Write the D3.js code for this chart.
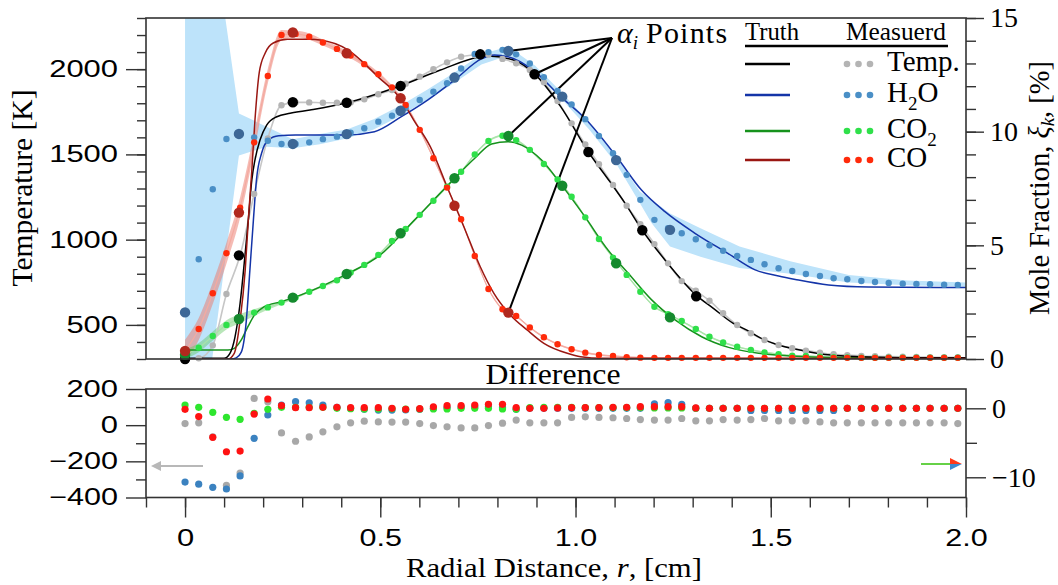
<!DOCTYPE html>
<html>
<head>
<meta charset="utf-8">
<script src="https://cdn.jsdelivr.net/npm/d3@7"></script>
<style>
  body { margin: 0; background: #fff; }
  svg { display: block; }
</style>
</head>
<body>
<svg id="chart" width="1058" height="585"></svg>
<script>
"use strict";

/* ---------------- data ---------------- */

// measurement grid, radial position [cm]
const rGrid = [0.000,0.035,0.071,0.106,0.141,0.177,0.212,0.247,0.283,0.318,0.353,0.389,0.424,0.459,0.495,0.530,0.565,0.601,0.636,0.671,0.707,0.742,0.777,0.813,0.848,0.883,0.919,0.954,0.990,1.025,1.060,1.096,1.131,1.166,1.202,1.237,1.272,1.308,1.343,1.378,1.414,1.449,1.484,1.520,1.555,1.590,1.626,1.661,1.696,1.732,1.767,1.802,1.838,1.873,1.908,1.944,1.979];

// measured values on the grid
const tempMeas = [300,304,380,681,908,1268,1594,1788,1805,1805,1803,1803,1805,1823,1853,1878,1915,1956,1999,2040,2073,2083,2085,2060,2034,1995,1923,1813,1682,1559,1442,1321,1199,1090,974,861,757,700,642,568,499,451,411,382,363,349,337,328,323,318,316,314,313,312,311,310,310];
const h2oMeas = [2.05,4.39,7.47,9.68,9.9,9.75,9.6,9.46,9.46,9.53,9.67,9.78,9.95,10.15,10.44,10.7,11.05,11.39,11.76,12.13,12.78,13.42,13.5,13.6,13.4,13.0,12.4,11.79,11.2,10.55,9.81,9.05,8.1,7.0,6.12,5.75,5.53,5.27,5.0,4.76,4.53,4.36,4.17,3.99,3.87,3.74,3.65,3.55,3.51,3.43,3.39,3.34,3.31,3.3,3.29,3.27,3.26];
const co2Meas = [0.2,0.5,1.01,1.5,1.78,2.04,2.27,2.48,2.7,2.96,3.21,3.46,3.8,4.14,4.58,5.19,5.72,6.34,6.96,7.58,8.24,9.0,9.59,9.82,9.63,9.2,8.58,7.9,7.14,6.23,5.28,4.46,3.7,2.96,2.3,1.97,1.67,1.32,0.98,0.73,0.54,0.4,0.29,0.21,0.15,0.13,0.1,0.08,0.07,0.06,0.06,0.06,0.06,0.06,0.06,0.06,0.06];
const coMeas = [0.35,1.32,2.89,4.65,6.66,9.53,12.45,14.25,14.3,14.18,13.92,13.64,13.35,12.97,12.53,11.95,11.17,10.08,8.83,7.54,6.15,4.53,3.08,2.19,1.89,1.39,0.96,0.65,0.43,0.28,0.18,0.13,0.08,0.06,0.05,0.05,0.05,0.05,0.05,0.05,0.05,0.05,0.05,0.05,0.05,0.05,0.05,0.05,0.05,0.05,0.05,0.05,0.05,0.05,0.05,0.05,0.05];

// truth profiles
const tempTruthR = [0,0.1,0.115,0.128,0.141,0.154,0.162,0.171,0.179,0.192,0.209,0.235,0.269,0.32,0.41,0.55,0.654,0.757,0.774,0.841,0.895,0.962,1.033,1.088,1.127,1.171,1.229,1.311,1.353,1.404,1.44,1.472,1.515,1.583,1.654,1.728,1.831,2.0];
const tempTruth  = [304,304,333,430,627,920,1115,1350,1467,1584,1672,1721,1741,1760,1800,1901,1995,2073,2077,2054,1972,1780,1514,1340,1213,1055,881,670,597,509,468,425,385,349,323,313,308,307];
const h2oTruthR = [0,0.118,0.131,0.144,0.157,0.166,0.175,0.183,0.196,0.213,0.24,0.283,0.41,0.485,0.554,0.622,0.69,0.759,0.792,0.827,0.892,0.962,1.024,1.108,1.169,1.229,1.306,1.39,1.46,1.52,1.563,1.648,1.75,2.0];
const h2oTruth  = [0,0,0.05,0.3,1.7,3.9,6.1,7.9,9.05,9.63,9.82,9.85,9.85,10.0,10.66,11.4,12.27,13.2,13.37,13.3,12.7,11.54,10.59,8.83,7.43,6.48,5.53,4.65,3.92,3.65,3.5,3.26,3.17,3.14];
const co2TruthR = [0,0.11,0.126,0.144,0.161,0.178,0.203,0.246,0.297,0.41,0.5,0.588,0.674,0.742,0.785,0.827,0.862,0.913,0.964,1.024,1.083,1.135,1.195,1.255,1.323,1.392,1.469,1.553,1.65,2.0];
const co2Truth  = [0.4,0.4,0.47,0.84,1.42,1.94,2.3,2.52,2.82,3.7,4.58,6.12,7.66,8.83,9.46,9.56,9.41,8.75,7.66,6.26,4.8,3.77,2.6,1.72,0.98,0.51,0.25,0.13,0.07,0.05];
const coTruthR = [0,0.11,0.126,0.141,0.154,0.162,0.171,0.179,0.19,0.205,0.226,0.262,0.32,0.346,0.417,0.495,0.554,0.586,0.628,0.671,0.714,0.756,0.791,0.833,0.876,0.919,0.979,1.013,1.07,2.0];
const coTruth  = [0,0,0.25,1.7,3.9,6.1,8.3,10.5,12.6,13.45,13.9,14.06,14.06,14.03,13.6,12.4,11.4,10.5,9.34,7.58,5.82,4.06,2.89,1.94,1.28,0.69,0.25,0.1,0.03,0.02];

// alpha_i points
const alphaR     = [0,0.138,0.276,0.414,0.552,0.69,0.828,0.966,1.104,1.242];
const alphaTempR = [0,0.138,0.276,0.414,0.552,0.756,0.895,1.033,1.171,1.309];
const alphaTemp  = [300,908,1806,1803,1901,2087,1970,1514,1055,668];
const alphaH2O   = [2.05,9.9,9.46,9.89,10.92,12.38,13.55,11.54,8.75,5.68];
const alphaCO2   = [0.18,1.76,2.7,3.74,5.53,7.95,9.81,7.62,4.21,1.83];
const alphaCO    = [0.35,6.44,14.36,13.45,11.47,6.74,2.04];

// H2O uncertainty band
const bandR  = [0,0.138,0.209,0.276,0.345,0.414,0.483,0.552,0.621,0.69,0.759,0.828,0.897,0.966,1.035,1.104,1.165,1.195,1.242,1.32,1.42,1.55,1.7,1.85,2.0];
const bandLo = [-9.1,8.95,9.34,9.27,9.45,9.7,10.1,10.7,11.4,12.15,12.95,13.35,12.55,11.4,10.1,8.6,6.85,5.97,4.95,4.5,4.0,3.75,3.36,3.24,3.18];
const bandHi = [27.4,10.8,10.22,9.67,9.9,10.1,10.55,11.15,11.85,12.6,13.4,13.75,12.9,11.7,10.4,8.9,7.36,7.0,6.4,5.75,4.95,4.3,3.7,3.45,3.36];

// half widths of the CO / CO2 measured bands
const coHwR  = [0,0.138,0.2,0.276,0.414,0.552,0.69,2.0];
const coHw   = [0.5,0.45,0.35,0.15,0.12,0.08,0.04,0.03];
const co2HwR = [0,0.138,0.2,0.276,2.0];
const co2Hw  = [0.2,0.2,0.12,0.05,0.03];

// difference panel
const diffTemp = [9,13,-65,-333,-265,148,129,-43,-89,-65,-37,-9,13,22,18,17,17,9,-2,-9,-15,-15,-2,11,28,13,13,13,43,46,43,41,37,31,28,28,37,24,24,31,28,31,37,24,24,24,18,13,13,13,13,13,13,13,13,13,9];
const diffH2O = [-10.7,-11.0,-11.45,-11.7,-9.8,-4.35,-0.97,0.48,0.96,0.81,0.48,0.14,0,-0.15,-0.25,-0.25,-0.24,-0.15,0,0.1,0.19,0.24,0.24,0.1,-0.15,0,0,0,0,0,0,0,0,0,0.63,0.82,0.58,0,0,0,0,-0.3,-0.3,-0.3,-0.3,-0.3,-0.3,-0.3,0,0,0,0,0,0,0,0,0];
const diffCO2 = [0.48,0.14,-0.58,-1.3,-1.6,-0.72,-0.15,0.14,0.14,0.14,0.14,0,-0.05,-0.1,-0.1,-0.05,-0.1,-0.1,-0.1,-0.1,0,0,0,-0.1,-0.15,0.1,0.15,0.15,0.15,0.1,0.1,0.1,0.1,0.1,0.05,0.05,0.05,0,0,0,0,0,0,0,0,0,0,0,0,0,0,0,0,0,0,0,0];
const diffCO = [-0.15,-1.2,-4.2,-6.3,-6.2,-0.83,1.35,0.38,0.09,0.09,0.14,0.14,0.09,0.09,0.09,0,-0.15,-0.05,0.23,0.38,0.38,0.48,0.58,0.58,0.1,0,0,0.05,0.1,0.1,0.1,0.15,0.15,0.24,0.24,0.24,0.24,0.05,0,0,0,0,0,0,0,0,0,0,0,0,0,0,0,0,0,0,0];

// ticks
const tempMajor = [500,1000,1500,2000];
const fracMajor = [0,5,10,15];
const diffKMajor = [-400,-200,0,200];
const diffKMinor = [-300,-100,100];
const diffXMajor = [-10,0];
const diffXMinor = [-5];
const rMajor = [0,0.5,1,1.5,2];

/* ---------------- layout ---------------- */
const plotL = 146, plotR = 966;
const topT = 18, topB = 359;
const botT = 389, botB = 497.5;
const SERIF = "'Liberation Serif','Times New Roman',serif";
const SANS = "'Liberation Sans',Arial,sans-serif";

const C = {
  tempTruth: "#000", tempMeas: "#b4b4b4", tempLine: "#c6c6c6",
  h2oTruth: "#1434a8", h2oMeas: "#4a8fc6", h2oAlpha: "#3d6796", h2oBand: "#bde3fa",
  co2Truth: "#16921c", co2Meas: "#2fe04a", co2Alpha: "#158a2e", co2Band: "rgb(100,200,100)",
  coTruth: "#9a1712", coMeas: "#ff2a0a", coAlpha: "#b0281e", coBand: "rgb(235,120,105)",
  dTemp: "#a8a8a8", dH2O: "#3b82c0", dCO2: "#2ee62e", dCO: "#ff1212", frame: "#333"
};

const svg = d3.select("#chart");

const x   = d3.scaleLinear().domain([-0.1, 2.0]).range([plotL, plotR]);
const yT  = d3.scaleLinear().domain([300, 2300]).range([topB, topT]);
const yX  = d3.scaleLinear().domain([0, 15]).range([topB, topT]);
const yDK = d3.scaleLinear().domain([-400, 200]).range([botB, botT]);
const yDX = d3.scaleLinear().domain([-12.93, 2.8]).range([botB, botT]);

/* Pair two arrays into points */
function zip_points(xs, ys) { return xs.map((d, i) => [d, ys[i]]); }

/* Width of a sans tick label (the figure's digits are drawn wide) */
function sans_width(s) {
  let w = 0;
  for (const ch of s) w += (ch === ".") ? 8 : 17.2;
  return w;
}

/* Common styling of an axis group */
function style_axis(g, family, size, wide) {
  g.select(".domain").remove();
  g.attr("font-family", family).attr("font-size", size);
  g.selectAll(".tick line").attr("stroke", C.frame).attr("stroke-width", 1.4);
  g.selectAll(".tick text").attr("fill", "#000");
  if (wide) {
    g.selectAll(".tick text").each(function() {
      const t = d3.select(this);
      t.attr("textLength", sans_width(t.text())).attr("lengthAdjust", "spacingAndGlyphs");
    });
  }
}

/* ---------------- top panel ---------------- */
svg.append("defs").append("clipPath").attr("id", "clipTop")
  .append("rect").attr("x", plotL).attr("y", topT)
  .attr("width", plotR - plotL).attr("height", topB - topT);

const gClip = svg.append("g").attr("clip-path", "url(#clipTop)");

// H2O band (straight segments, as in the figure)
gClip.append("path")
  .datum(bandR.map((r, i) => ({ r: r, lo: bandLo[i], hi: bandHi[i] })))
  .attr("fill", C.h2oBand)
  .attr("d", d3.area().curve(d3.curveLinear)
    .x(d => x(d.r)).y0(d => yX(d.lo)).y1(d => yX(d.hi)));

/* Band of a measured series with interpolated half width */
function render_meas_band(values, hwR, hw, color, opacity) {
  const half = d3.scaleLinear().domain(hwR).range(hw).clamp(true);
  gClip.append("path")
    .datum(values.map((v, i) => ({ r: rGrid[i], v: v })))
    .attr("fill", color).attr("fill-opacity", opacity)
    .attr("d", d3.area().curve(d3.curveMonotoneX)
      .x(d => x(d.r)).y0(d => yX(d.v - half(d.r))).y1(d => yX(d.v + half(d.r))));
}
render_meas_band(coMeas, coHwR, coHw, C.coBand, 0.5);
render_meas_band(co2Meas, co2HwR, co2Hw, C.co2Band, 0.45);

/* Thin line through the measured points */
function render_meas_line(values, yScale, color, width) {
  gClip.append("path")
    .datum(zip_points(rGrid, values))
    .attr("fill", "none").attr("stroke", color).attr("stroke-width", width)
    .attr("d", d3.line().curve(d3.curveMonotoneX).x(d => x(d[0])).y(d => yScale(d[1])));
}
render_meas_line(tempMeas, yT, C.tempLine, 1.6);
render_meas_line(coMeas, yX, "#f4aaa0", 1.2);
render_meas_line(co2Meas, yX, "#a8e4a8", 1.2);

/* Truth profile */
function render_truth(rs, vs, yScale, color) {
  gClip.append("path")
    .datum(zip_points(rs, vs))
    .attr("fill", "none").attr("stroke", color).attr("stroke-width", 1.5)
    .attr("d", d3.line().curve(d3.curveMonotoneX).x(d => x(d[0])).y(d => yScale(d[1])));
}
render_truth(co2TruthR, co2Truth, yX, C.co2Truth);
render_truth(tempTruthR, tempTruth, yT, C.tempTruth);
render_truth(h2oTruthR, h2oTruth, yX, C.h2oTruth);
render_truth(coTruthR, coTruth, yX, C.coTruth);

// alpha_i annotation
const hub = [612, 38];
const targets = [
  [x(alphaR[6]), yX(alphaH2O[6])],
  [x(alphaTempR[6]), yT(alphaTemp[6])],
  [x(alphaR[6]), yX(alphaCO2[6])],
  [x(alphaR[6]), yX(alphaCO[6])]
];
svg.append("g").selectAll("line").data(targets).enter().append("line")
  .attr("x1", hub[0]).attr("y1", hub[1])
  .attr("x2", d => d[0]).attr("y2", d => d[1])
  .attr("stroke", "#000").attr("stroke-width", 2);

/* Small measured dots */
function render_dots(values, yScale, color) {
  svg.append("g").selectAll("circle").data(values).enter().append("circle")
    .attr("cx", (d, i) => x(rGrid[i])).attr("cy", d => yScale(d))
    .attr("r", 3.2).attr("fill", color);
}
render_dots(tempMeas, yT, C.tempMeas);
render_dots(h2oMeas, yX, C.h2oMeas);
render_dots(co2Meas, yX, C.co2Meas);
render_dots(coMeas, yX, C.coMeas);

/* Large alpha_i dots */
function render_alpha(rs, values, yScale, color) {
  svg.append("g").selectAll("circle").data(values).enter().append("circle")
    .attr("cx", (d, i) => x(rs[i])).attr("cy", d => yScale(d))
    .attr("r", 5.2).attr("fill", color);
}
render_alpha(alphaTempR, alphaTemp, yT, "#000");
render_alpha(alphaR, alphaH2O, yX, C.h2oAlpha);
render_alpha(alphaR, alphaCO2, yX, C.co2Alpha);
render_alpha(alphaR, alphaCO, yX, C.coAlpha);

// frame
svg.append("rect").attr("x", plotL).attr("y", topT)
  .attr("width", plotR - plotL).attr("height", topB - topT)
  .attr("fill", "none").attr("stroke", C.frame).attr("stroke-width", 1.6);

// left temperature axis
svg.append("g").attr("transform", `translate(${plotL},0)`)
  .call(d3.axisLeft(yT).ticks(20).tickSize(9).tickFormat(""))
  .call(g => style_axis(g, SANS, 23, false));
svg.append("g").attr("transform", `translate(${plotL},0)`)
  .call(d3.axisLeft(yT).tickValues(tempMajor).tickSize(20).tickPadding(8).tickFormat(d3.format("d")))
  .call(g => style_axis(g, SANS, 23, true));

// right mole-fraction axis
svg.append("g").attr("transform", `translate(${plotR},0)`)
  .call(d3.axisRight(yX).ticks(15).tickSize(10).tickFormat(""))
  .call(g => style_axis(g, SERIF, 28, false));
svg.append("g").attr("transform", `translate(${plotR},0)`)
  .call(d3.axisRight(yX).tickValues(fracMajor).tickSize(18).tickPadding(6).tickFormat(d3.format("d")))
  .call(g => style_axis(g, SERIF, 28, false));

/* ---------------- difference panel ---------------- */
function render_diff(values, yScale, color) {
  svg.append("g").selectAll("circle").data(values).enter().append("circle")
    .attr("cx", (d, i) => x(rGrid[i])).attr("cy", d => yScale(d))
    .attr("r", 3.6).attr("fill", color);
}
render_diff(diffTemp, yDK, C.dTemp);
render_diff(diffH2O, yDX, C.dH2O);
render_diff(diffCO2, yDX, C.dCO2);
render_diff(diffCO, yDX, C.dCO);

svg.append("rect").attr("x", plotL).attr("y", botT)
  .attr("width", plotR - plotL).attr("height", botB - botT)
  .attr("fill", "none").attr("stroke", C.frame).attr("stroke-width", 1.6);

// axis arrows
svg.append("line").attr("x1", 203).attr("x2", 158).attr("y1", 466).attr("y2", 466)
  .attr("stroke", "#b8b8b8").attr("stroke-width", 2);
svg.append("path").attr("d", "M151,466 L161,461 L161,471 Z").attr("fill", "#b8b8b8");
svg.append("line").attr("x1", 921).attr("x2", 952).attr("y1", 464).attr("y2", 464)
  .attr("stroke", "#55cc33").attr("stroke-width", 1.8);
svg.append("path").attr("d", "M950,458 L962,464 L950,464 Z").attr("fill", "#ff3a1a");
svg.append("path").attr("d", "M950,464 L962,464 L950,470 Z").attr("fill", "#3b8ad0");

svg.append("g").attr("transform", `translate(${plotL},0)`)
  .call(d3.axisLeft(yDK).tickValues(diffKMinor).tickSize(10).tickFormat(""))
  .call(g => style_axis(g, SANS, 23, false));
svg.append("g").attr("transform", `translate(${plotL},0)`)
  .call(d3.axisLeft(yDK).tickValues(diffKMajor).tickSize(20).tickPadding(8).tickFormat(d3.format("d")))
  .call(g => style_axis(g, SANS, 23, true));

svg.append("g").attr("transform", `translate(${plotR},0)`)
  .call(d3.axisRight(yDX).tickValues(diffXMinor).tickSize(11).tickFormat(""))
  .call(g => style_axis(g, SERIF, 28, false));
svg.append("g").attr("transform", `translate(${plotR},0)`)
  .call(d3.axisRight(yDX).tickValues(diffXMajor).tickSize(20).tickPadding(6).tickFormat(d3.format("d")))
  .call(g => style_axis(g, SERIF, 28, false));

// radial axis
svg.append("g").attr("transform", `translate(0,${botB})`)
  .call(d3.axisBottom(x).ticks(21).tickSize(10).tickFormat(""))
  .call(g => style_axis(g, SANS, 23, false));
svg.append("g").attr("transform", `translate(0,${botB})`)
  .call(d3.axisBottom(x).tickValues(rMajor).tickSize(20).tickPadding(12)
    .tickFormat(d => d === 0 ? "0" : d3.format(".1f")(d)))
  .call(g => style_axis(g, SANS, 23, true));

/* ---------------- text ---------------- */
svg.append("text").attr("transform", "translate(32,188) rotate(-90)")
  .attr("text-anchor", "middle").attr("font-family", SERIF).attr("font-size", 29.5)
  .text("Temperature [K]");

const mole = svg.append("text").attr("transform", "translate(1049,188) rotate(-90)")
  .attr("text-anchor", "middle").attr("font-family", SERIF).attr("font-size", 28.5);
mole.append("tspan").text("Mole Fraction, ");
mole.append("tspan").attr("font-style", "italic").text("ξ");
mole.append("tspan").attr("font-style", "italic").attr("font-size", 19).attr("dy", 5).text("k");
mole.append("tspan").attr("dy", -5).text(", [%]");

const rad = svg.append("text").attr("x", 554).attr("y", 577)
  .attr("text-anchor", "middle").attr("font-family", SERIF).attr("font-size", 28)
  .attr("textLength", 296).attr("lengthAdjust", "spacingAndGlyphs");
rad.append("tspan").text("Radial Distance, ");
rad.append("tspan").attr("font-style", "italic").text("r");
rad.append("tspan").text(", [cm]");

svg.append("text").attr("x", 553).attr("y", 384)
  .attr("text-anchor", "middle").attr("font-family", SERIF).attr("font-size", 29)
  .attr("textLength", 135).attr("lengthAdjust", "spacingAndGlyphs")
  .text("Difference");

const alphaLabel = svg.append("text").attr("x", 617).attr("y", 43)
  .attr("font-family", SERIF).attr("font-size", 30);
alphaLabel.append("tspan").attr("font-style", "italic").text("α");
alphaLabel.append("tspan").attr("font-style", "italic").attr("font-size", 19).attr("dy", 6).text("i");
alphaLabel.append("tspan").attr("dy", -6).attr("dx", 8).attr("letter-spacing", 1.2).text("Points");

/* ---------------- legend ---------------- */
const legend = svg.append("g");
legend.append("text").attr("x", 745).attr("y", 40).attr("font-family", SERIF)
  .attr("font-size", 25).attr("textLength", 54).attr("lengthAdjust", "spacingAndGlyphs").text("Truth");
legend.append("text").attr("x", 846).attr("y", 40).attr("font-family", SERIF)
  .attr("font-size", 25).attr("textLength", 100).attr("lengthAdjust", "spacingAndGlyphs").text("Measuerd");
legend.append("line").attr("x1", 745).attr("x2", 948).attr("y1", 46).attr("y2", 46)
  .attr("stroke", "#000").attr("stroke-width", 2.4);

const legendRows = [
  { y: 64,  line: C.tempTruth, dot: C.tempMeas, label: ["Temp."] },
  { y: 95,  line: C.h2oTruth,  dot: C.h2oMeas,  label: ["H", "2", "O"] },
  { y: 131, line: C.co2Truth,  dot: C.co2Meas,  label: ["CO", "2"] },
  { y: 160, line: C.coTruth,   dot: C.coMeas,   label: ["CO"] }
];
const dotOffsets = [847, 858.5, 870];

legendRows.forEach(row => {
  legend.append("line").attr("x1", 745).attr("x2", 790).attr("y1", row.y).attr("y2", row.y)
    .attr("stroke", row.line).attr("stroke-width", 2.4);
  legend.selectAll(null).data(dotOffsets).enter().append("circle")
    .attr("cx", d => d).attr("cy", row.y).attr("r", 3.3).attr("fill", row.dot);
  const t = legend.append("text").attr("x", 887).attr("y", row.y + 7)
    .attr("font-family", SERIF).attr("font-size", 29);
  row.label.forEach((s, i) => {
    const sp = t.append("tspan").text(s);
    if (i === 1) sp.attr("font-size", 19).attr("dy", 8);
    if (i === 2) sp.attr("dy", -8);
  });
});
</script>
</body>
</html>
